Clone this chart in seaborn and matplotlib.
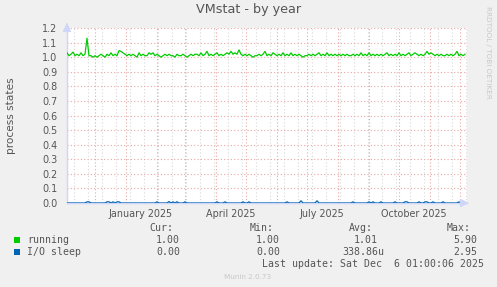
import matplotlib
matplotlib.use("Agg")
import matplotlib.pyplot as plt
import matplotlib.dates as mdates
from matplotlib.patches import Rectangle
import numpy as np
import pandas as pd
import seaborn as sns

# ---------------- data ----------------
title = "VMstat - by year"
ylabel = "process states"
series_names = ["running", "I/O sleep"]
series_colors = ["#00cc00", "#0066b3"]

# samples every 2 days starting 2024-11-03
running = [
    1.03, 1.01, 1.02, 1.035, 1.01, 1.02, 1.01, 1.03, 1.01, 1.02,
    1.13, 1.01, 1.01, 1.00, 1.01, 1.00, 1.01, 1.02, 1.01, 1.00,
    1.02, 1.01, 1.03, 1.01, 1.02, 1.01, 1.045, 1.04, 1.03, 1.02,
    1.01, 1.02, 1.01, 1.02, 1.01, 1.00, 1.03, 1.01, 1.02, 1.01,
    1.01, 1.03, 1.02, 1.03, 1.01, 1.02, 1.01, 1.00, 1.01, 1.02,
    1.01, 1.02, 1.01, 1.01, 1.00, 1.02, 1.01, 1.01, 1.02, 1.01,
    1.00, 1.01, 1.02, 1.01, 1.02, 1.02, 1.01, 1.03, 1.01, 1.02,
    1.04, 1.01, 1.02, 1.01, 1.02, 1.03, 1.01, 1.02, 1.01, 1.02,
    1.03, 1.02, 1.04, 1.02, 1.03, 1.02, 1.05, 1.02, 1.01, 1.02,
    1.01, 1.02, 1.01, 1.00, 1.01, 1.01, 1.02, 1.01, 1.02, 1.04,
    1.01, 1.02, 1.01, 1.03, 1.02, 1.01, 1.02, 1.01, 1.03, 1.01,
    1.02, 1.01, 1.03, 1.01, 1.02, 1.01, 1.02, 1.01, 1.00, 1.01,
    1.01, 1.02, 1.01, 1.02, 1.01, 1.02, 1.03, 1.01, 1.02, 1.01,
    1.03, 1.01, 1.02, 1.01, 1.02, 1.01, 1.02, 1.01, 1.02, 1.01,
    1.02, 1.01, 1.01, 1.02, 1.01, 1.02, 1.01, 1.03, 1.01, 1.02,
    1.01, 1.03, 1.01, 1.02, 1.01, 1.02, 1.01, 1.02, 1.01, 1.02,
    1.03, 1.01, 1.02, 1.01, 1.02, 1.01, 1.03, 1.01, 1.02, 1.01,
    1.02, 1.03, 1.01, 1.02, 1.03, 1.02, 1.01, 1.02, 1.01, 1.02,
    1.04, 1.02, 1.03, 1.02, 1.01, 1.02, 1.01, 1.02, 1.01, 1.01,
    1.02, 1.01, 1.02, 1.01, 1.02, 1.04, 1.01, 1.02, 1.01, 1.02,
]
io_sleep = [
    0, 0, 0, 0, 0, 0, 0, 0, 0, 0,
    0.008, 0.008, 0, 0, 0, 0, 0, 0, 0, 0,
    0.008, 0.008, 0, 0.008, 0, 0.008, 0.008, 0, 0, 0,
    0, 0, 0, 0, 0, 0, 0, 0, 0, 0,
    0, 0, 0, 0, 0, 0.008, 0, 0, 0, 0,
    0, 0.01, 0, 0.008, 0, 0.008, 0, 0, 0, 0.008,
    0, 0, 0, 0, 0, 0, 0, 0, 0, 0,
    0, 0, 0, 0, 0, 0.008, 0, 0, 0, 0.008,
    0, 0, 0, 0, 0, 0, 0, 0, 0.008, 0,
    0, 0.008, 0, 0, 0, 0, 0, 0, 0, 0,
    0, 0, 0, 0, 0, 0, 0, 0, 0, 0,
    0.008, 0, 0, 0, 0, 0, 0, 0.015, 0, 0,
    0, 0, 0, 0, 0, 0.015, 0, 0, 0, 0,
    0, 0, 0, 0, 0, 0, 0, 0, 0, 0,
    0, 0, 0, 0.008, 0, 0, 0, 0, 0, 0,
    0, 0.008, 0, 0.008, 0, 0, 0, 0.008, 0, 0,
    0, 0, 0, 0, 0.008, 0, 0, 0, 0, 0.008,
    0.008, 0, 0, 0, 0, 0, 0.008, 0, 0, 0.008,
    0.008, 0, 0, 0.008, 0, 0, 0, 0, 0.008, 0,
    0, 0, 0, 0, 0, 0, 0.008, 0, 0, 0,
]
yticks = [0.0, 0.1, 0.2, 0.3, 0.4, 0.5, 0.6, 0.7, 0.8, 0.9, 1.0, 1.1, 1.2]
xtick_labels = ["January 2025", "April 2025", "July 2025", "October 2025"]
xtick_dates = ["2025-01-16 01:00", "2025-04-16 01:00", "2025-07-16 01:00", "2025-10-16 01:00"]
month_lines = ["2024-12-01", "2025-01-01", "2025-02-01", "2025-03-01", "2025-04-01",
               "2025-05-01", "2025-06-01", "2025-07-01", "2025-08-01", "2025-09-01",
               "2025-10-01", "2025-11-01", "2025-12-01"]
legend_header = ["Cur:", "Min:", "Avg:", "Max:"]
legend_rows = [
    ["1.00", "1.00", "1.01", "5.90"],
    ["0.00", "0.00", "338.86u", "2.95"],
]
last_update = "Last update: Sat Dec  6 01:00:06 2025"
footer = "Munin 2.0.73"
side_text = "RRDTOOL / TOBI OETIKER"

x_start = pd.Timestamp("2024-11-03 01:00")
x_end = pd.Timestamp("2025-12-08 01:00")
dates = pd.date_range(x_start, periods=len(running), freq="2D")
df = pd.DataFrame({"date": dates, "running": running, "io": io_sleep})

# ---------------- figure ----------------
BG = "#f0f0f0"
FONT = "#555555"
AXIS = "#cfd6f8"
W, H = 497, 287
fig = plt.figure(figsize=(W / 100, H / 100), dpi=100, facecolor=BG)
ax = fig.add_axes([67 / W, (H - 203) / H, 400 / W, 175 / H])
ax.set_facecolor("white")

ax.set_xlim(x_start, x_end)
ax.set_ylim(0, 1.2)

# grid lines
for d in pd.date_range("2024-11-10", x_end, freq="14D"):
    ax.axvline(d, color="#d8d8d8", lw=0.8, ls=(0, (1, 2)), zorder=1)
for m in month_lines:
    ax.axvline(pd.Timestamp(m), color="#eca6a6", lw=0.8, ls=(0, (1, 2)), zorder=1.1)
for y in yticks[1:]:
    ax.axhline(y, color="#eca6a6", lw=0.8, ls=(0, (1, 2)), zorder=1.1)

sns.lineplot(data=df, x="date", y="running", color=series_colors[0], lw=0.9, ax=ax, zorder=3)
sns.lineplot(data=df, x="date", y="io", color=series_colors[1], lw=0.9, ax=ax, zorder=3)

ax.set_xlabel("")
ax.set_ylabel(ylabel, color=FONT, fontsize=7.6)
ax.yaxis.set_label_coords(-51 / 400, 0.5)
ax.set_yticks(yticks)
ax.set_yticklabels([f"{v:.1f}" for v in yticks])
ax.set_xticks([pd.Timestamp(d) for d in xtick_dates])
ax.set_xticklabels(xtick_labels)
ax.tick_params(axis="both", length=0, labelsize=6.9, colors=FONT)
ax.tick_params(axis="y", pad=7)
ax.tick_params(axis="x", pad=4)
ax.grid(False)
for s in ["top", "right"]:
    ax.spines[s].set_visible(False)
ax.spines["left"].set_color(AXIS)
ax.spines["bottom"].set_color(AXIS)
ax.spines["left"].set_linewidth(1)
ax.spines["bottom"].set_linewidth(1)

# arrows
ax.annotate("", xy=(0, 1.045), xytext=(0, 1.0), xycoords="axes fraction",
            arrowprops=dict(arrowstyle="-|>,head_width=0.25,head_length=0.5",
                            color=AXIS, lw=1), annotation_clip=False)
ax.annotate("", xy=(1.012, 0), xytext=(0.99, 0), xycoords="axes fraction",
            arrowprops=dict(arrowstyle="-|>,head_width=0.25,head_length=0.5",
                            color=AXIS, lw=1), annotation_clip=False)

# title and side text
fig.text(249 / W, 1 - 10 / H, title, ha="center", va="center", fontsize=9.2, color=FONT)
fig.text(488 / W, 1 - 52 / H, side_text, ha="center", va="center", rotation=270,
         fontsize=5.2, color="#c8c8c8")

# legend table
mono = "DejaVu Sans Mono"
fs = 7.1
col_x = [149, 250, 349, 447]
for x, h in zip(col_x, legend_header):
    fig.text(x / W, 1 - 228 / H, h, ha="left", va="center", fontsize=fs, family=mono, color=FONT)
row_y = [240, 252]
val_x = [[156, 256, 354, 453], [156, 256, 342, 453]]
for r, (name, color, vals, y) in enumerate(zip(series_names, series_colors, legend_rows, row_y)):
    fig.patches.append(Rectangle((14 / W, 1 - (y + 3) / H), 6 / W, 6 / H,
                                 transform=fig.transFigure, facecolor=color,
                                 edgecolor=color, lw=0))
    fig.text(27 / W, 1 - y / H, name, ha="left", va="center", fontsize=fs, family=mono, color=FONT)
    for x, v in zip(val_x[r], vals):
        fig.text(x / W, 1 - y / H, v, ha="left", va="center", fontsize=fs, family=mono, color=FONT)
fig.text(262 / W, 1 - 264 / H, last_update, ha="left", va="center", fontsize=fs, family=mono, color=FONT)
fig.text(248 / W, 1 - 277 / H, footer, ha="center", va="center", fontsize=5.2, color="#c8c8c8")

fig.savefig("out.png", dpi=100, facecolor=BG)
